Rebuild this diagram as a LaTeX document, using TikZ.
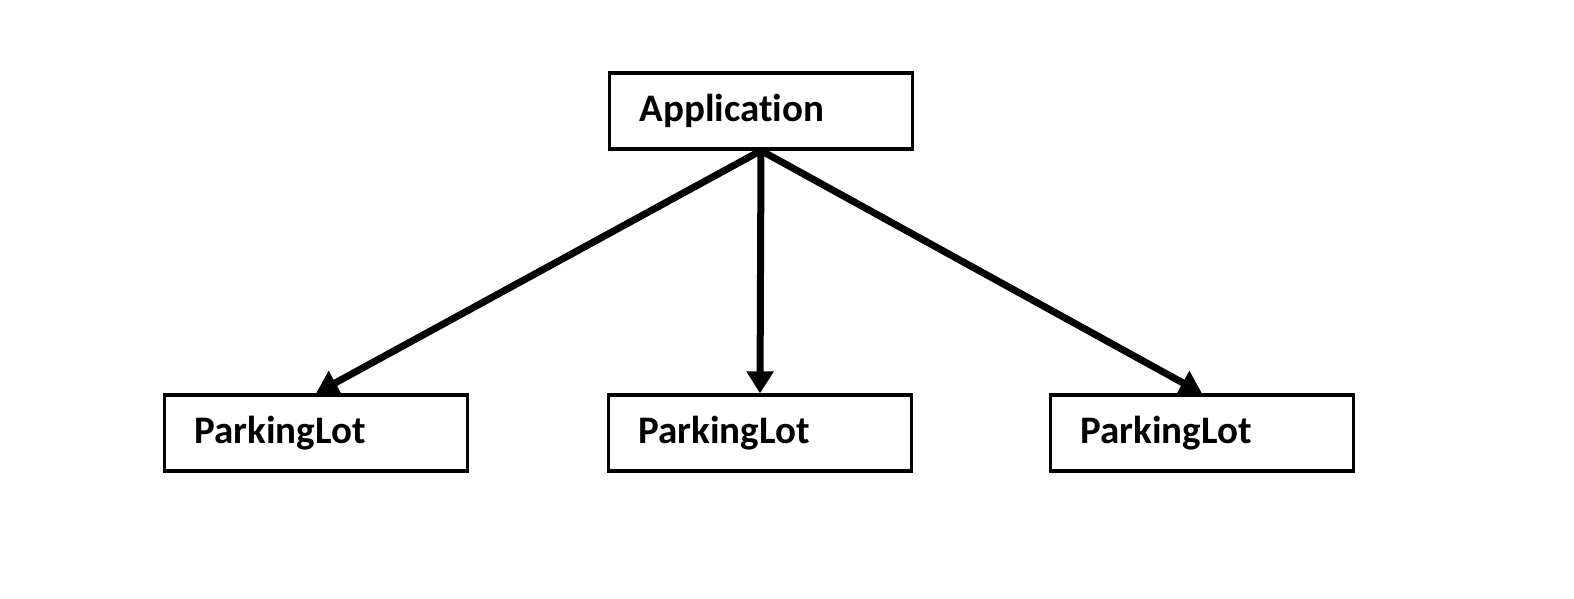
\documentclass[tikz,border=0pt]{standalone}
\usepackage{fontspec}
\setmainfont[Ligatures=NoCommon]{Carlito}
\usetikzlibrary{arrows.meta}
\usetikzlibrary{positioning}

\begin{document}
\begin{tikzpicture}[x=1pt, y=1pt,
    classbox/.style={draw, line width=3.2pt, rectangle, minimum height=76pt,
      text width=243pt, inner xsep=30pt, align=left, font=\fontsize{39}{47}\selectfont\bfseries},
    link/.style={line width=7pt, -{Triangle[width=26pt, length=22pt]}, shorten <=-1pt}]

      \useasboundingbox (0, 0) rectangle (1574, 598);

      \node[classbox] (app) at (761, 487) {Application};

      \node[classbox] (lot1) at (316, 165) {ParkingLot};
      \node[classbox] (lot2) at (760, 165) {ParkingLot};
      \node[classbox] (lot3) at (1202, 165) {ParkingLot};

      % links from the application to every parking lot
      \foreach \j in {1,...,3} {
        \draw[link] (app.south) -- (lot\j.north);
      }
    \end{tikzpicture}
\end{document}
